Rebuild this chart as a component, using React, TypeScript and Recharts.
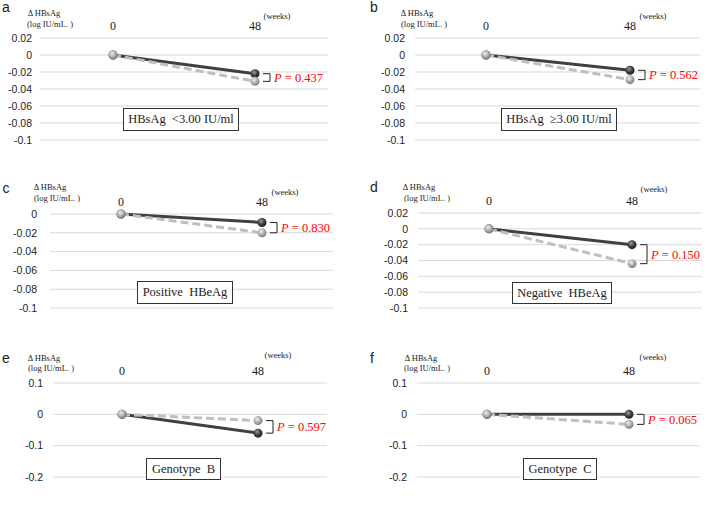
import { CartesianGrid, Line, LineChart, ReferenceLine, XAxis, YAxis } from "recharts";

const weeks = ['0', '48'];
const panelLetters = ['a', 'b', 'c', 'd', 'e', 'f'];
const subgroupLabels = [
    'HBsAg  <3.00 IU/ml',
    'HBsAg  ≥3.00 IU/ml',
    'Positive  HBeAg',
    'Negative  HBeAg',
    'Genotype  B',
    'Genotype  C',
];
// change in HBsAg at week 0 and 48, two groups per panel
const solidChange = [
    [0, -0.022],
    [0, -0.018],
    [0, -0.009],
    [0, -0.02],
    [0, -0.06],
    [0, 0],
];
const dashedChange = [
    [0, -0.031],
    [0, -0.029],
    [0, -0.02],
    [0, -0.044],
    [0, -0.02],
    [0, -0.032],
];
const pValues = ['0.437', '0.562', '0.830', '0.150', '0.597', '0.065'];
const ticksFine = [0.02, 0, -0.02, -0.04, -0.06, -0.08, -0.1];
const ticksFineNoTop = [0, -0.02, -0.04, -0.06, -0.08, -0.1];
const ticksCoarse = [0.1, 0, -0.1, -0.2];
const tickSets = [ticksFine, ticksFine, ticksFineNoTop, ticksFine, ticksCoarse, ticksCoarse];

// plot box of each panel in page pixels
const layout = [
    { x0: 40, x1: 328, y0: 38, y1: 140, padL: 73, padR: 73, gap: 2, letter: [6, 7], yt: [44, 13, 50, 24], wk: [277, 16], box: [123, 108, 116, 23] },
    { x0: 415, x1: 700, y0: 38, y1: 140, padL: 71, padR: 70, gap: 4, letter: [374, 7], yt: [417, 13, 424, 24], wk: [653, 16], box: [501, 108, 116, 23] },
    { x0: 50, x1: 333, y0: 214, y1: 308, padL: 71, padR: 71, gap: 7, letter: [6, 188], yt: [50, 187, 57, 198], wk: [285, 192], box: [137, 281, 96, 23] },
    { x0: 418, x1: 702, y0: 213, y1: 308, padL: 71, padR: 70, gap: 4, letter: [374, 187], yt: [419, 187, 427, 198], wk: [654, 189], box: [512, 282, 100, 22] },
    { x0: 53, x1: 327, y0: 383, y1: 477, padL: 69, padR: 69, gap: 4, letter: [6, 358], yt: [44, 358, 51, 368], wk: [278, 355], box: [146, 458, 75, 22] },
    { x0: 417, x1: 700, y0: 383, y1: 477, padL: 70, padR: 71, gap: 4, letter: [372, 358], yt: [421, 358, 427, 368], wk: [653, 357], box: [523, 458, 74, 22] },
];

const serif = '"Liberation Serif", "Times New Roman", serif';
const sans = '"Liberation Sans", Arial, sans-serif';

function centered(x: number, y: number, text: string, size: number, family: string) {
    return (
        <div style={{
            position: 'absolute', left: x, top: y, transform: 'translate(-50%, -50%)',
            fontSize: size, fontFamily: family, whiteSpace: 'pre', lineHeight: 1, color: '#222',
        }}>{text}</div>
    );
}

function Panel({ i }: { i: number }) {
    const L = layout[i];
    const ticks = tickSets[i];
    const data = weeks.map((w, k) => ({ week: w, solid: solidChange[i][k], dashed: dashedChange[i][k] }));
    const axisW = 40;
    const topH = 20;
    const width = L.x1 - L.x0 + axisW;
    const height = L.y1 - L.y0 + topH + 8;
    const dark = `dark${i}`;
    const light = `light${i}`;

    const sphere = (id: string) => (props: any) => (
        <circle key={`${id}-${props.index}`} cx={props.cx} cy={props.cy} r={4.5} fill={`url(#${id})`} />
    );

    const bracket = (p: any) => {
        const x = p.x1;
        const ya = Math.min(p.y1, p.y2);
        const yb = Math.max(p.y1, p.y2);
        return (
            <g>
                <path d={`M${x + 8},${ya} H${x + 15} V${yb} H${x + 8}`} fill="none" stroke="#222" strokeWidth={1} />
                <text x={x + 19} y={(ya + yb) / 2} dy="0.35em" fontFamily={serif} fontSize={12.5} fill="#ff0000">
                    <tspan fontStyle="italic">P</tspan> = {pValues[i]}
                </text>
            </g>
        );
    };

    return (
        <>
            {centered(L.letter[0], L.letter[1], panelLetters[i], 14, sans)}
            {centered(L.yt[0], L.yt[1], 'Δ HBsAg', 8.5, serif)}
            {centered(L.yt[2], L.yt[3], '(log IU/mL. )', 8.5, serif)}
            {centered(L.wk[0], L.wk[1], '(weeks)', 8.5, serif)}
            <div style={{ position: 'absolute', left: L.x0 - axisW, top: L.y0 - topH }}>
                <LineChart width={width} height={height} data={data} margin={{ top: 0, right: 0, bottom: 8, left: 0 }}>
                    <defs>
                        <radialGradient id={dark} cx="40%" cy="35%" r="65%">
                            <stop offset="0%" stopColor="#9a9a9a" />
                            <stop offset="60%" stopColor="#3a3a3a" />
                            <stop offset="100%" stopColor="#1e1e1e" />
                        </radialGradient>
                        <radialGradient id={light} cx="40%" cy="35%" r="65%">
                            <stop offset="0%" stopColor="#eeeeee" />
                            <stop offset="60%" stopColor="#a8a8a8" />
                            <stop offset="100%" stopColor="#7a7a7a" />
                        </radialGradient>
                    </defs>
                    <CartesianGrid vertical={false} stroke="#d9d9d9" />
                    <XAxis dataKey="week" orientation="top" height={topH} axisLine={false} tickLine={false}
                        interval={0} padding={{ left: L.padL, right: L.padR }}
                        tick={{ fontSize: 12, fontFamily: serif, fill: '#1a1a1a' }} />
                    <YAxis type="number" domain={[ticks[ticks.length - 1], ticks[0]]} ticks={ticks} interval={0}
                        axisLine={false} tickLine={false} width={axisW} tickMargin={L.gap}
                        tickFormatter={(v: number) => String(v)}
                        tick={{ fontSize: 10.5, fontFamily: sans, fill: '#222' }} />
                    <Line dataKey="solid" stroke="#404040" strokeWidth={3} dot={sphere(dark)} activeDot={false}
                        isAnimationActive={false} />
                    <Line dataKey="dashed" stroke="#bfbfbf" strokeWidth={3} strokeDasharray="8 4" dot={sphere(light)}
                        activeDot={false} isAnimationActive={false} />
                    <ReferenceLine segment={[{ x: weeks[1], y: solidChange[i][1] }, { x: weeks[1], y: dashedChange[i][1] }]}
                        shape={bracket} />
                </LineChart>
            </div>
            <div style={{
                position: 'absolute', left: L.box[0], top: L.box[1], width: L.box[2], height: L.box[3],
                boxSizing: 'border-box', border: '1px solid #333', background: '#fff',
                display: 'flex', alignItems: 'center', justifyContent: 'center',
                fontFamily: serif, fontSize: 12.5, whiteSpace: 'pre', color: '#222',
            }}>{subgroupLabels[i]}</div>
        </>
    );
}

export default function App() {
    return (
        <div style={{ position: 'absolute', left: 0, top: 0, width: 709, height: 505, background: '#fff', overflow: 'hidden' }}>
            {panelLetters.map((_, i) => <Panel key={i} i={i} />)}
        </div>
    );
}
